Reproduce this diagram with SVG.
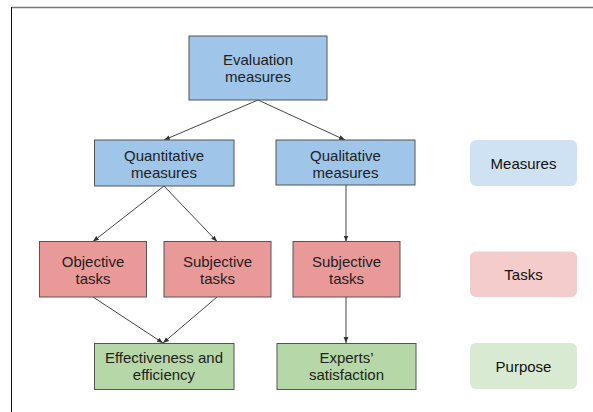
<svg xmlns="http://www.w3.org/2000/svg" width="593" height="412" viewBox="0 0 593 412">
<defs>
<marker id="ah" viewBox="0 0 10 10" refX="10" refY="5" markerWidth="6" markerHeight="6" markerUnits="userSpaceOnUse" orient="auto">
<path d="M0,1 L10,5 L0,9 Z" fill="#333"/>
</marker>
</defs>
<style>
.n rect{stroke:#555;stroke-width:1}
.blue rect{fill:#9fc5e8}
.red rect{fill:#ea9999}
.green rect{fill:#b6d7a8}
text{font-family:"Liberation Sans",Arial,sans-serif;font-size:15px;fill:#222;text-anchor:middle}
.lg rect{stroke:none}
.lg text{fill:#111}
.c line{stroke:#444;stroke-width:1;fill:none;marker-end:url(#ah)}
</style>
<rect width="593" height="412" fill="#fff"/>
<g id="frame">
<line x1="11.5" y1="7.5" x2="593" y2="7.5" stroke="#777" stroke-width="1.5"/>
<line x1="11.5" y1="7" x2="11.5" y2="412" stroke="#111" stroke-width="1"/>
</g>
<g class="c" id="connectors">
<line x1="258" y1="100" x2="164" y2="140"/>
<line x1="258" y1="100" x2="345" y2="140"/>
<line x1="164" y1="186" x2="93" y2="241.5"/>
<line x1="164" y1="186" x2="217" y2="241.5"/>
<line x1="346" y1="185" x2="346" y2="241.5"/>
<line x1="93" y1="297" x2="163" y2="343"/>
<line x1="217" y1="297" x2="163" y2="343"/>
<line x1="346" y1="297" x2="346" y2="343"/>
</g>
<g id="evaluation" class="n blue">
<rect x="189" y="36" width="138" height="64"/>
<text x="258" y="65">Evaluation</text>
<text x="258" y="82">measures</text>
</g>
<g id="quantitative" class="n blue">
<rect x="94.5" y="140" width="139.5" height="46"/>
<text x="164" y="161">Quantitative</text>
<text x="164" y="178">measures</text>
</g>
<g id="qualitative" class="n blue">
<rect x="276" y="140" width="139" height="45"/>
<text x="345.5" y="161">Qualitative</text>
<text x="345.5" y="178">measures</text>
</g>
<g id="objective" class="n red">
<rect x="39.5" y="241.5" width="107" height="55.5"/>
<text x="93" y="267">Objective</text>
<text x="93" y="284">tasks</text>
</g>
<g id="subjective1" class="n red">
<rect x="164" y="241.5" width="107" height="55.5"/>
<text x="217.5" y="267">Subjective</text>
<text x="217.5" y="284">tasks</text>
</g>
<g id="subjective2" class="n red">
<rect x="293" y="241.5" width="107" height="55.5"/>
<text x="346.5" y="267">Subjective</text>
<text x="346.5" y="284">tasks</text>
</g>
<g id="effectiveness" class="n green">
<rect x="94.5" y="343.5" width="139.5" height="46"/>
<text x="164" y="363">Effectiveness and</text>
<text x="164" y="380">efficiency</text>
</g>
<g id="experts" class="n green">
<rect x="277" y="343.5" width="139" height="46"/>
<text x="346.5" y="363">Experts’</text>
<text x="346.5" y="380">satisfaction</text>
</g>
<g id="legend-measures" class="lg">
<rect x="470" y="140" width="107" height="46" rx="6" fill="#cfe2f3"/>
<text x="523.5" y="168.5">Measures</text>
</g>
<g id="legend-tasks" class="lg">
<rect x="470" y="251.5" width="107" height="45.5" rx="6" fill="#f4cccc"/>
<text x="523.5" y="279.5">Tasks</text>
</g>
<g id="legend-purpose" class="lg">
<rect x="470" y="343" width="107" height="46" rx="6" fill="#d9ead3"/>
<text x="523.5" y="371.5">Purpose</text>
</g>
</svg>
